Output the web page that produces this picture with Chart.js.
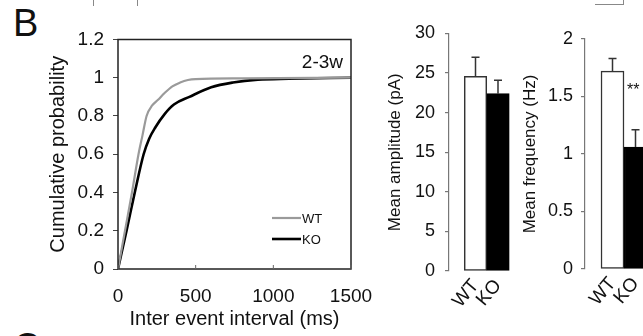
<!DOCTYPE html>
<html lang="en">
<head>
<meta charset="UTF-8">
<title>Inter event interval / mean amplitude / mean frequency</title>
<script src="https://cdn.jsdelivr.net/npm/chart.js"></script>
<style>
  html, body { margin: 0; padding: 0; background: #fff; }
  body { width: 643px; height: 336px; position: relative; overflow: hidden;
         font-family: "Liberation Sans", Arial, sans-serif; color: #111; }
  .box { position: absolute; top: 0; }
  .letter { position: absolute; font-size: 38px; line-height: 1; }
  .stars { position: absolute; left: 627px; top: 82px; font-size: 16px; line-height: 1; }
  .frag { position: absolute; background: #888; }
</style>
</head>
<body>
  <!-- bits of the neighbouring panels -->
  <div class="frag" style="left:93px;top:0;width:1px;height:6px"></div>
  <div class="frag" style="left:137px;top:0;width:1px;height:6px"></div>
  <div class="frag" style="left:595px;top:4px;width:29px;height:1px"></div>
  <div class="frag" style="left:623px;top:0;width:1px;height:5px"></div>

  <div class="letter" style="left:13px;top:4px">B</div>
  <div class="letter" style="left:13px;top:328px">C</div>

  <div class="box" style="left:0;width:380px"><canvas id="cdfChart" width="380" height="336"></canvas></div>
  <div class="box" style="left:370px;width:160px"><canvas id="ampChart" width="160" height="336"></canvas></div>
  <div class="box" style="left:510px;width:133px"><canvas id="freqChart" width="133" height="336"></canvas></div>
  <div class="stars">**</div>

<script>
// cumulative distributions (ms, probability)
const wtInterval = [0, 45, 90, 132, 158, 184, 220, 258, 300, 350, 400, 450, 500, 800, 1500];
const wtCumProb  = [0, 0.2, 0.4, 0.6, 0.7, 0.8, 0.855, 0.885, 0.92, 0.955, 0.975, 0.988, 0.993, 0.997, 1.0];
const koInterval = [0, 55, 108, 165, 200, 240, 300, 360, 460, 600, 740, 900, 1100, 1500];
const koCumProb  = [0, 0.2, 0.4, 0.6, 0.68, 0.74, 0.81, 0.86, 0.9, 0.95, 0.975, 0.99, 0.995, 1.0];
const cdfTicksX = [0, 500, 1000, 1500];
const cdfTicksY = [0, 0.2, 0.4, 0.6, 0.8, 1, 1.2];

// bar panels
const groups   = ['WT', 'KO'];
const ampMean  = [24.6, 22.4];
const ampSem   = [2.4, 1.7];
const ampTicks = [0, 5, 10, 15, 20, 25, 30];
const freqMean = [1.72, 1.06];
const freqSem  = [0.11, 0.15];
const freqTicks = [0, 0.5, 1, 1.5, 2];

Chart.defaults.font.family = '"Liberation Sans", Arial, sans-serif';
Chart.defaults.color = '#111';
Chart.defaults.animation = false;

const toPoints = (xs, ys) => xs.map((x, i) => ({ x: x, y: ys[i] }));
const setTicks = list => scale => { scale.ticks = list.map(v => ({ value: v })); };
const plain = v => String(v);

// box around the plot, inner ticks on x, "2-3w" and the small legend
const cdfDecor = {
  id: 'cdfDecor',
  afterDatasetsDraw(chart) {
    const { ctx, chartArea: a, scales: { x } } = chart;
    ctx.save();
    ctx.strokeStyle = '#222';
    ctx.lineWidth = 1.5;
    ctx.strokeRect(a.left, a.top, a.width, a.height);
    ctx.lineWidth = 1;
    ctx.strokeStyle = '#666';
    x.ticks.forEach(t => {
      const px = x.getPixelForValue(t.value);
      ctx.beginPath(); ctx.moveTo(px, a.bottom); ctx.lineTo(px, a.bottom - 4); ctx.stroke();
    });

    ctx.fillStyle = '#111';
    ctx.font = '19px "Liberation Sans", Arial, sans-serif';
    ctx.textAlign = 'right';
    ctx.textBaseline = 'middle';
    ctx.fillText('2-3w', a.right - 8, a.top + 23);

    ctx.font = '13px "Liberation Sans", Arial, sans-serif';
    ctx.textAlign = 'left';
    chart.data.datasets.forEach((ds, i) => {
      const yy = a.bottom - 51 + i * 21;
      ctx.strokeStyle = ds.borderColor;
      ctx.lineWidth = ds.borderWidth;
      ctx.beginPath(); ctx.moveTo(a.right - 79, yy); ctx.lineTo(a.right - 50, yy); ctx.stroke();
      ctx.fillText(ds.label, a.right - 49, yy + 1);
    });
    ctx.restore();
  }
};

new Chart(document.getElementById('cdfChart'), {
  type: 'scatter',
  data: {
    datasets: [
      { label: 'WT', data: toPoints(wtInterval, wtCumProb), showLine: true,
        borderColor: '#9a9a9a', borderWidth: 2.2, cubicInterpolationMode: 'monotone', pointRadius: 0 },
      { label: 'KO', data: toPoints(koInterval, koCumProb), showLine: true,
        borderColor: '#000', borderWidth: 2.6, cubicInterpolationMode: 'monotone', pointRadius: 0 }
    ]
  },
  options: {
    responsive: false,
    layout: { padding: { top: 39.5, right: 29, left: 0, bottom: 0 } },
    plugins: { legend: { display: false }, tooltip: { enabled: false } },
    scales: {
      x: {
        type: 'linear', min: 0, max: 1500,
        afterBuildTicks: setTicks(cdfTicksX),
        afterFit: s => { s.height = 67; s.paddingLeft = 0; s.paddingRight = 0; },
        grid: { display: false, drawTicks: false },
        border: { display: false },
        ticks: { padding: 16, font: { size: 19 }, callback: plain },
        title: { display: true, text: 'Inter event interval (ms)', font: { size: 20 }, padding: { top: 0, bottom: 5 } }
      },
      y: {
        min: 0, max: 1.2,
        afterBuildTicks: setTicks(cdfTicksY),
        afterFit: s => { s.width = 118; },
        grid: { drawOnChartArea: false, drawTicks: true, tickLength: 5, color: '#444' },
        border: { display: false },
        ticks: { padding: 9, font: { size: 19 }, callback: plain },
        title: { display: true, text: 'Cumulative probability', font: { size: 20 }, padding: { top: 46, bottom: 0 } }
      }
    }
  },
  plugins: [cdfDecor]
});

// mean + sem bars
const errorBars = {
  id: 'errorBars',
  afterDatasetsDraw(chart, args, opts) {
    const { ctx, scales: { y } } = chart;
    const ds = chart.data.datasets[0];
    ctx.save();
    ctx.strokeStyle = '#333';
    ctx.lineWidth = 1.5;
    chart.getDatasetMeta(0).data.forEach((bar, i) => {
      const top = y.getPixelForValue(ds.data[i].y + opts.errors[i]);
      ctx.beginPath();
      ctx.moveTo(bar.x, bar.y); ctx.lineTo(bar.x, top);
      ctx.moveTo(bar.x - 4, top); ctx.lineTo(bar.x + 4, top);
      ctx.stroke();
    });
    ctx.restore();
  }
};

function barChart(id, means, sems, yTicks, yMax, title, o) {
  return new Chart(document.getElementById(id), {
    type: 'bar',
    data: {
      datasets: [{
        data: groups.map((g, i) => ({ x: i + 1, y: means[i] })),
        backgroundColor: ['#fff', '#000'],
        borderColor: ['#333', '#000'],
        borderWidth: 1.5,
        borderSkipped: false,
        barPercentage: 1,
        categoryPercentage: 1
      }]
    },
    options: {
      responsive: false,
      layout: { padding: { top: o.top, right: o.right, left: 0, bottom: 0 } },
      plugins: { legend: { display: false }, tooltip: { enabled: false }, errorBars: { errors: sems } },
      scales: {
        x: {
          type: 'linear', min: o.xMin, max: o.xMax, offset: false,
          afterBuildTicks: setTicks(groups.map((g, i) => i + 1)),
          afterFit: s => { s.height = o.xHeight; s.paddingLeft = 0; s.paddingRight = 0; },
          grid: { display: false, drawTicks: false },
          border: { display: false },
          ticks: { autoSkip: false, minRotation: 50, maxRotation: 50, padding: 4, font: { size: 19 },
                   callback: v => groups[v - 1] }
        },
        y: {
          min: 0, max: yMax,
          afterBuildTicks: setTicks(yTicks),
          afterFit: s => { s.width = o.yWidth; },
          grid: { drawOnChartArea: false, drawTicks: true, tickLength: 4, color: '#777', lineWidth: 1.2 },
          border: { color: '#777', width: 1.2 },
          ticks: { padding: o.tickPad, font: { size: 18 }, callback: plain },
          title: { display: true, text: title, font: { size: 17 }, padding: { top: o.titlePad, bottom: 0 } }
        }
      }
    },
    plugins: [errorBars]
  });
}

barChart('ampChart', ampMean, ampSem, ampTicks, 30, 'Mean amplitude (pA)',
  { top: 33.5, right: 10, xMin: -0.178, xMax: 2.978, xHeight: 65, yWidth: 79, tickPad: 10, titlePad: 15 });
barChart('freqChart', freqMean, freqSem, freqTicks, 2, 'Mean frequency (Hz)',
  { top: 39, right: 0, xMin: -0.196, xMax: 2.326, xHeight: 67, yWidth: 75, tickPad: 8, titlePad: 10 });
</script>
</body>
</html>
